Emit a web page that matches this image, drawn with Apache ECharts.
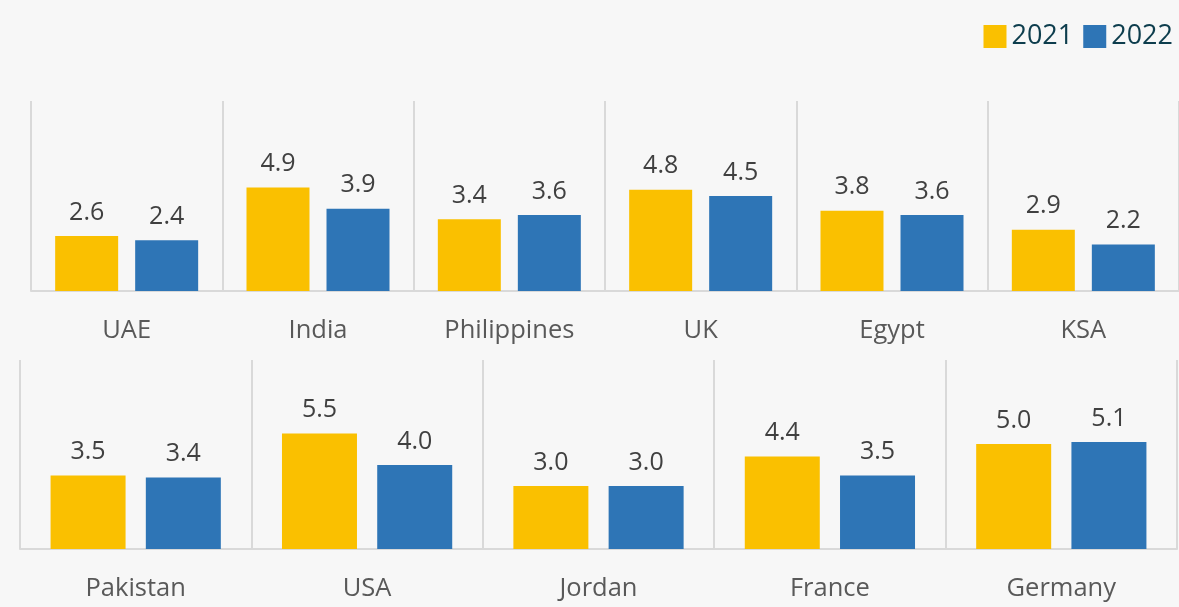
<!DOCTYPE html>
<html>
<head>
<meta charset="utf-8">
<script src="https://cdn.jsdelivr.net/npm/echarts@6/dist/echarts.min.js"></script>
<style>
  html, body { margin: 0; padding: 0; background: #F7F7F7; }
  #chart { width: 1179px; height: 607px; }
</style>
</head>
<body>
<div id="chart"></div>
<script>
// top row
const topCountries = ['UAE', 'India', 'Philippines', 'UK', 'Egypt', 'KSA'];
const top2021 = [2.6, 4.9, 3.4, 4.8, 3.8, 2.9];
const top2022 = [2.4, 3.9, 3.6, 4.5, 3.6, 2.2];

// bottom row
const bottomCountries = ['Pakistan', 'USA', 'Jordan', 'France', 'Germany'];
const bottom2021 = [3.5, 5.5, 3.0, 4.4, 5.0];
const bottom2022 = [3.4, 4.0, 3.0, 3.5, 5.1];

const yellow = '#FAC000';
const blue = '#2E75B6';
const font = 'Open Sans';

const chart = echarts.init(document.getElementById('chart'));

const valueLabel = {
  show: true,
  position: 'top',
  distance: 11,
  color: '#404040',
  fontFamily: font,
  fontSize: 25,
  formatter: (p) => p.value.toFixed(1),
};

function catAxis(data, gridIndex) {
  return {
    type: 'category',
    gridIndex: gridIndex,
    data: data,
    axisTick: { show: false },
    axisLine: { show: true, lineStyle: { color: '#D9D9D9', width: 2 } },
    splitLine: { show: true, lineStyle: { color: '#D9D9D9', width: 2 } },
    axisLabel: {
      color: '#595959',
      fontFamily: font,
      fontSize: 25.5,
      margin: 27,
    },
  };
}

function valAxis(gridIndex) {
  return {
    type: 'value',
    gridIndex: gridIndex,
    min: 0,
    max: 9,
    show: false,
    splitLine: { show: false },
  };
}

function barSeries(name, data, idx, color, width) {
  return {
    name: name,
    type: 'bar',
    xAxisIndex: idx,
    yAxisIndex: idx,
    data: data,
    barWidth: width,
    barGap: '27%',
    itemStyle: { color: color },
    label: valueLabel,
  };
}

chart.setOption({
  backgroundColor: '#F7F7F7',
  animation: false,
  legend: {
    data: ['2021', '2022'],
    right: 1,
    top: 18,
    icon: 'rect',
    itemWidth: 23,
    itemHeight: 23,
    itemGap: 10,
    itemStyle: { borderWidth: 0 },
    textStyle: { color: '#0D3D4D', fontFamily: font, fontSize: 27 },
  },
  grid: [
    { left: 31, top: 101, width: 1149, height: 190 },
    { left: 20, top: 360, width: 1157, height: 189 },
  ],
  xAxis: [catAxis(topCountries, 0), catAxis(bottomCountries, 1)],
  yAxis: [valAxis(0), valAxis(1)],
  series: [
    barSeries('2021', top2021, 0, yellow, 63),
    barSeries('2022', top2022, 0, blue, 63),
    barSeries('2021', bottom2021, 1, yellow, 75),
    barSeries('2022', bottom2022, 1, blue, 75),
  ],
});
</script>
</body>
</html>
